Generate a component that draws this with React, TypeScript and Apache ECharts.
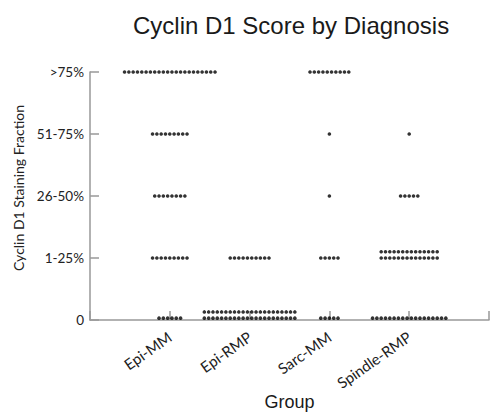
import React, { useEffect, useRef } from "react";
import * as echarts from "echarts";

const groups = ["Epi-MM", "Epi-RMP", "Sarc-MM", "Spindle-RMP"];
const levels = ["0", "1-25%", "26-50%", "51-75%", ">75%"];
// counts per level (0, 1-25%, 26-50%, 51-75%, >75%)
const epiMM = [6, 9, 8, 9, 22];
const epiRMP = [44, 10, 0, 0, 0];
const sarcMM = [5, 5, 1, 1, 10];
const spindleRMP = [18, 28, 5, 1, 0];
const countsByGroup = [epiMM, epiRMP, sarcMM, spindleRMP];

const MAX_PER_ROW = 22;
const DX = 0.054; // horizontal dot spacing in x units
const DY = 0.1; // row spacing in y units

function swarm(gi: number, counts: number[]) {
  const pts: number[][] = [];
  counts.forEach((n, li) => {
    if (!n) return;
    const rows = Math.ceil(n / MAX_PER_ROW);
    const perRow = Math.ceil(n / rows);
    let left = n;
    for (let r = 0; r < rows; r++) {
      const k = Math.min(perRow, left);
      left -= k;
      const base = li === 0 ? 0.03 : 0;
      const y = li + base + r * DY;
      for (let i = 0; i < k; i++) {
        pts.push([gi + 1 + (i - (k - 1) / 2) * DX, y]);
      }
    }
  });
  return pts;
}

export default function App() {
  const ref = useRef<HTMLDivElement>(null);
  useEffect(() => {
    if (!ref.current) return;
    const chart = echarts.init(ref.current, undefined, { renderer: "svg" });
    const font = "Lato, 'Open Sans', sans-serif";
    chart.setOption({
      animation: false,
      backgroundColor: "#fff",
      title: {
        text: "Cyclin D1 Score by Diagnosis",
        left: 128,
        top: 8,
        textStyle: {
          fontFamily: "'Liberation Sans', Arial, sans-serif",
          fontSize: 24,
          fontWeight: "normal",
          color: "#1a1a1a",
        },
      },
      grid: {
        left: 90,
        right: 1,
        top: 72,
        bottom: 92,
        containLabel: false,
        outerBoundsMode: "none",
      },
      xAxis: {
        type: "value",
        min: 0,
        max: 5,
        interval: 1,
        name: "Group",
        nameLocation: "middle",
        nameGap: 73,
        nameMoveOverlap: false,
        nameTextStyle: {
          fontFamily: "'Liberation Sans', Arial, sans-serif",
          fontSize: 18,
          color: "#1a1a1a",
        },
        axisLine: { show: true, lineStyle: { color: "#999", width: 1.5 } },
        axisTick: { show: true, inside: true, length: 9, lineStyle: { color: "#999", width: 1.5 } },
        splitLine: { show: false },
        axisLabel: {
          rotate: 35,
          margin: 15,
          fontFamily: font,
          fontSize: 15,
          color: "#222",
          formatter: (v: number) => groups[Math.round(v) - 1] ?? "",
        },
      },
      yAxis: {
        type: "value",
        min: 0,
        max: 4,
        interval: 1,
        name: "Cyclin D1 Staining Fraction",
        nameLocation: "middle",
        nameGap: 65,
        nameMoveOverlap: false,
        nameTextStyle: { fontFamily: font, fontSize: 14, color: "#222", padding: [0, 0, 0, 16] },
        axisLine: { show: true, lineStyle: { color: "#999", width: 1.5 } },
        axisTick: { show: true, inside: true, length: 9, lineStyle: { color: "#999", width: 1.5 } },
        splitLine: { show: false },
        axisLabel: {
          margin: 6,
          fontFamily: font,
          fontSize: 13.5,
          color: "#222",
          formatter: (v: number) => levels[Math.round(v)] ?? "",
        },
      },
      series: countsByGroup.map((c, gi) => ({
        type: "scatter",
        name: groups[gi],
        data: swarm(gi, c),
        symbol: "circle",
        symbolSize: 3.6,
        itemStyle: { color: "#000" },
        clip: false,
      })),
    });
    return () => chart.dispose();
  }, []);
  return (
    <div
      ref={ref}
      style={{ position: "fixed", left: 0, top: 0, width: 490, height: 412 }}
    />
  );
}
